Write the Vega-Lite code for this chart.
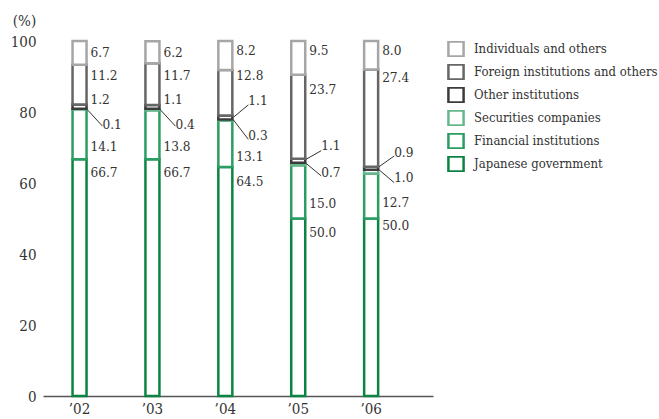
{
  "$schema": "https://vega.github.io/schema/vega-lite/v6.json",
  "width": 390,
  "height": 355,
  "autosize": "none",
  "padding": {"left": 43, "top": 41, "right": 226, "bottom": 23},
  "background": "white",
  "config": {
    "view": {"stroke": null},
    "font": "DejaVu Serif Condensed, DejaVu Serif",
    "axis": {"labelFont": "DejaVu Serif Condensed, DejaVu Serif", "titleFont": "DejaVu Serif Condensed, DejaVu Serif", "labelColor": "#333", "titleColor": "#333"},
    "legend": {"labelFont": "DejaVu Serif Condensed, DejaVu Serif"},
    "text": {"font": "DejaVu Serif Condensed, DejaVu Serif"}
  },
  "data": {
    "values": [
      {"year": "’02", "cat": "Japanese government", "rank": 1, "value": 66.7, "label": "66.7", "label_y": 62.7, "leader": false},
      {"year": "’02", "cat": "Financial institutions", "rank": 2, "value": 14.1, "label": "14.1", "label_y": 70.2, "leader": false},
      {"year": "’02", "cat": "Securities companies", "rank": 3, "value": 0.1, "label": "0.1", "label_y": 76.3, "leader": true, "line_from": 80.6, "line_to": 76.0},
      {"year": "’02", "cat": "Other institutions", "rank": 4, "value": 1.2, "label": "1.2", "label_y": 83.5, "leader": false},
      {"year": "’02", "cat": "Foreign institutions and others", "rank": 5, "value": 11.2, "label": "11.2", "label_y": 90.1, "leader": false},
      {"year": "’02", "cat": "Individuals and others", "rank": 6, "value": 6.7, "label": "6.7", "label_y": 96.7, "leader": false},

      {"year": "’03", "cat": "Japanese government", "rank": 1, "value": 66.7, "label": "66.7", "label_y": 62.7, "leader": false},
      {"year": "’03", "cat": "Financial institutions", "rank": 2, "value": 13.8, "label": "13.8", "label_y": 70.2, "leader": false},
      {"year": "’03", "cat": "Securities companies", "rank": 3, "value": 0.4, "label": "0.4", "label_y": 76.3, "leader": true, "line_from": 80.6, "line_to": 76.0},
      {"year": "’03", "cat": "Other institutions", "rank": 4, "value": 1.1, "label": "1.1", "label_y": 83.5, "leader": false},
      {"year": "’03", "cat": "Foreign institutions and others", "rank": 5, "value": 11.7, "label": "11.7", "label_y": 90.1, "leader": false},
      {"year": "’03", "cat": "Individuals and others", "rank": 6, "value": 6.2, "label": "6.2", "label_y": 96.7, "leader": false},

      {"year": "’04", "cat": "Japanese government", "rank": 1, "value": 64.5, "label": "64.5", "label_y": 60.4, "leader": false},
      {"year": "’04", "cat": "Financial institutions", "rank": 2, "value": 13.1, "label": "13.1", "label_y": 67.4, "leader": false},
      {"year": "’04", "cat": "Securities companies", "rank": 3, "value": 0.3, "label": "0.3", "label_y": 73.2, "leader": true, "line_from": 77.8, "line_to": 72.3},
      {"year": "’04", "cat": "Other institutions", "rank": 4, "value": 1.1, "label": "1.1", "label_y": 83.2, "leader": true, "line_from": 78.5, "line_to": 82.0},
      {"year": "’04", "cat": "Foreign institutions and others", "rank": 5, "value": 12.8, "label": "12.8", "label_y": 90.1, "leader": false},
      {"year": "’04", "cat": "Individuals and others", "rank": 6, "value": 8.2, "label": "8.2", "label_y": 97.3, "leader": false},

      {"year": "’05", "cat": "Japanese government", "rank": 1, "value": 50.0, "label": "50.0", "label_y": 46.0, "leader": false},
      {"year": "’05", "cat": "Financial institutions", "rank": 2, "value": 15.0, "label": "15.0", "label_y": 54.1, "leader": false},
      {"year": "’05", "cat": "Securities companies", "rank": 3, "value": 0.7, "label": "0.7", "label_y": 62.9, "leader": true, "line_from": 65.5, "line_to": 62.0},
      {"year": "’05", "cat": "Other institutions", "rank": 4, "value": 1.1, "label": "1.1", "label_y": 70.4, "leader": true, "line_from": 66.7, "line_to": 69.1},
      {"year": "’05", "cat": "Foreign institutions and others", "rank": 5, "value": 23.7, "label": "23.7", "label_y": 86.2, "leader": false},
      {"year": "’05", "cat": "Individuals and others", "rank": 6, "value": 9.5, "label": "9.5", "label_y": 97.3, "leader": false},

      {"year": "’06", "cat": "Japanese government", "rank": 1, "value": 50.0, "label": "50.0", "label_y": 47.9, "leader": false},
      {"year": "’06", "cat": "Financial institutions", "rank": 2, "value": 12.7, "label": "12.7", "label_y": 54.5, "leader": false},
      {"year": "’06", "cat": "Securities companies", "rank": 3, "value": 1.0, "label": "1.0", "label_y": 61.3, "leader": true, "line_from": 63.7, "line_to": 60.1},
      {"year": "’06", "cat": "Other institutions", "rank": 4, "value": 0.9, "label": "0.9", "label_y": 68.5, "leader": true, "line_from": 64.6, "line_to": 67.6},
      {"year": "’06", "cat": "Foreign institutions and others", "rank": 5, "value": 27.4, "label": "27.4", "label_y": 89.7, "leader": false},
      {"year": "’06", "cat": "Individuals and others", "rank": 6, "value": 8.0, "label": "8.0", "label_y": 97.3, "leader": false}
    ]
  },
  "encoding": {
    "x": {
      "field": "year", "type": "nominal", "sort": null,
      "scale": {"paddingInner": 0.808, "paddingOuter": 0.579, "align": 0.35},
      "axis": {
        "title": null, "ticks": false, "labelAngle": 0, "labelFontSize": 15,
        "labelPadding": 5, "labelBaseline": "top", "domainColor": "#555", "domainWidth": 1.5
      }
    }
  },
  "layer": [
    {
      "mark": {"type": "bar", "fill": "white", "strokeWidth": 2.5},
      "encoding": {
        "y": {
          "field": "value", "type": "quantitative", "stack": "zero",
          "scale": {"domain": [0, 100]},
          "axis": {
            "values": [0, 20, 40, 60, 80, 100], "grid": false, "ticks": false, "domain": false,
            "labelFontSize": 15, "labelPadding": 7,
            "title": "(%)", "titleAngle": 0, "titleFontSize": 15, "titleFontWeight": "normal",
            "titleAlign": "center", "titleBaseline": "middle", "titleX": -19, "titleY": -21
          }
        },
        "order": {"field": "rank", "type": "quantitative", "sort": "ascending"},
        "stroke": {
          "field": "cat", "type": "nominal",
          "scale": {
            "domain": ["Individuals and others", "Foreign institutions and others", "Other institutions", "Securities companies", "Financial institutions", "Japanese government"],
            "range": ["#a6a6a6", "#666666", "#3c3c3c", "#66b88c", "#2b9d62", "#0b8443"]
          },
          "legend": {
            "title": null, "orient": "none", "legendX": 404, "legendY": 0,
            "symbolType": "square", "symbolSize": 230, "symbolFillColor": "white", "symbolStrokeWidth": 2.5,
            "labelFontSize": 13, "labelColor": "#333", "labelOffset": 9, "labelLimit": 300,
            "rowPadding": 7, "clipHeight": 16, "padding": 0
          }
        }
      }
    },
    {
      "transform": [{"filter": "!datum.leader"}],
      "mark": {"type": "text", "align": "left", "baseline": "middle", "dx": 4, "fontSize": 13.5, "fill": "#333"},
      "encoding": {
        "x": {"field": "year", "type": "nominal", "sort": null, "bandPosition": 1},
        "y": {"field": "label_y", "type": "quantitative", "stack": null},
        "text": {"field": "label", "type": "nominal"}
      }
    },
    {
      "transform": [{"filter": "datum.leader"}],
      "mark": {"type": "text", "align": "left", "baseline": "middle", "dx": 16, "fontSize": 13.5, "fill": "#333"},
      "encoding": {
        "x": {"field": "year", "type": "nominal", "sort": null, "bandPosition": 1},
        "y": {"field": "label_y", "type": "quantitative", "stack": null},
        "text": {"field": "label", "type": "nominal"}
      }
    },
    {
      "transform": [{"filter": "datum.leader"}],
      "mark": {"type": "rule", "color": "#333", "strokeWidth": 1, "xOffset": 1, "x2Offset": 16},
      "encoding": {
        "x": {"field": "year", "type": "nominal", "sort": null, "bandPosition": 1},
        "x2": {"field": "year", "bandPosition": 1},
        "y": {"field": "line_from", "type": "quantitative", "stack": null},
        "y2": {"field": "line_to"}
      }
    }
  ]
}
